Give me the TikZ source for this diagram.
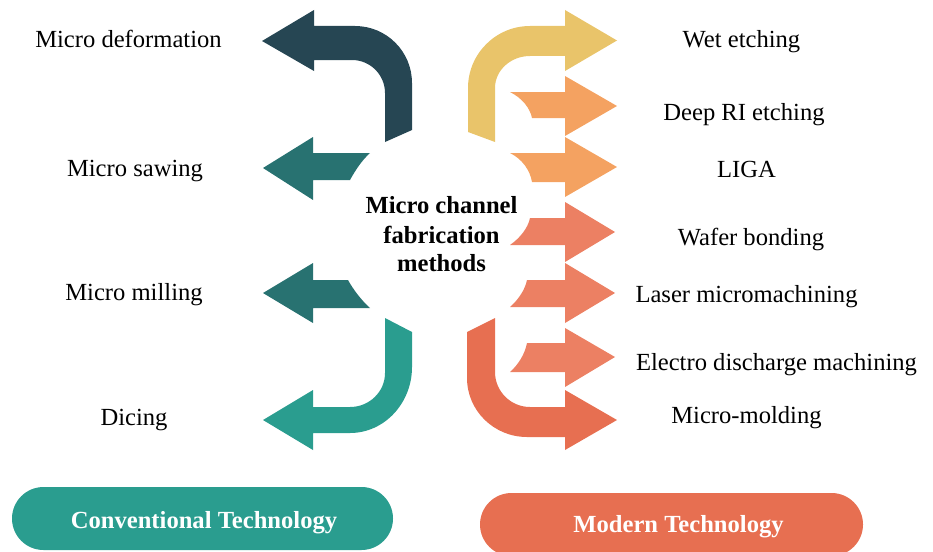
\documentclass[tikz,border=0pt]{standalone}
\usepackage{fontspec}
\setmainfont{Liberation Serif}
\definecolor{cdark}{HTML}{264653}
\definecolor{cteal}{HTML}{287271}
\definecolor{cgreen}{HTML}{2A9D8F}
\definecolor{cyellow}{HTML}{E9C46A}
\definecolor{corange}{HTML}{F4A261}
\definecolor{csalmon}{HTML}{EC8063}
\definecolor{cred}{HTML}{E76F51}
\tikzset{
  lbl/.style={anchor=base, inner sep=0pt, font=\fontsize{24.6}{29}\selectfont, text=black},
  ctr/.style={anchor=base, inner sep=0pt, font=\fontsize{24.6}{29}\selectfont\bfseries, text=black},
  pill/.style={draw=none, inner sep=0pt, minimum height=63pt, rounded corners=31.5pt},
  pilltxt/.style={anchor=base, inner sep=0pt, font=\fontsize{24.6}{29}\selectfont\bfseries, text=white}
}
\begin{document}
\begin{tikzpicture}[x=1pt,y=-1pt]
\useasboundingbox (0,0) rectangle (933,551);
\clip (0,0) rectangle (933,551);
% ---------- left arrows ----------
\fill[cdark] (314,26) -- (355,26) .. controls (386.5,26) and (412,51.5) .. (412,83) -- (412,130) -- (385,142) -- (385,93) .. controls (385,74.8) and (370.2,60) .. (352,60) -- (314,60) -- (314,71) -- (262,41) -- (314,10) -- cycle;
\fill[cteal] (313,153) -- (370,153) .. controls (361.8,160.4) and (355.3,170.4) .. (350,180) -- (313,180) -- (313,200) -- (263,168) -- (313,137) -- cycle;
\fill[cteal] (313,280) -- (348,280) .. controls (353.3,289.7) and (361.8,300.7) .. (370,308) -- (313,308) -- (313,323) -- (263,293) -- (313,263) -- cycle;
\fill[cgreen] (313,407) -- (350,407) .. controls (369.3,407) and (385,391.8) .. (385,373) -- (385,318) -- (412,332) -- (412,367) .. controls (412,403.4) and (384.2,433) .. (350,433) -- (313,433) -- (313,450) -- (263,420) -- (313,390) -- cycle;
% ---------- right arrows ----------
\fill[cyellow] (565,26) -- (530,26) .. controls (495.8,26) and (468,53.8) .. (468,88) -- (468,132) -- (495,142) -- (495,88) .. controls (495,70.3) and (510.7,56) .. (530,56) -- (565,56) -- (565,71) -- (617,40.5) -- (565,10) -- cycle;
\fill[corange] (565,92) -- (510,92) .. controls (522,98) and (530,108) .. (532,118) -- (565,118) -- (565,136) -- (617,106) -- (565,76) -- cycle;
\fill[corange] (565,153) -- (510,153) .. controls (522,159) and (530,170) .. (532,182) -- (565,182) -- (565,197) -- (617,167) -- (565,137) -- cycle;
\fill[csalmon] (565,218) -- (530,218) .. controls (528,228) and (520,238) .. (510,245) -- (565,245) -- (565,262) -- (615,232) -- (565,202) -- cycle;
\fill[csalmon] (565,280) -- (527,280) .. controls (525,290) and (518,300) .. (510,307) -- (565,307) -- (565,323) -- (615,293) -- (565,263) -- cycle;
\fill[csalmon] (565,343) -- (527,343) .. controls (525,354) and (518,365) .. (510,372) -- (565,372) -- (565,387) -- (615,357) -- (565,328) -- cycle;
\fill[cred] (565,437) -- (527,437) .. controls (493.9,437) and (467,410.6) .. (467,378) -- (467,332) -- (495,318) -- (495,372) .. controls (495,391.3) and (510.7,407) .. (530,407) -- (565,407) -- (565,390) -- (617,420) -- (565,450) -- cycle;
% ---------- labels ----------
\node[lbl] (l1) at (128.5,48) {Micro deformation};
\node[lbl] (l2) at (135,176) {Micro sawing};
\node[lbl] (l3) at (134,300) {Micro milling};
\node[lbl] (l4) at (134,425) {Dicing};
\node[lbl] (r1) at (741.5,48) {Wet etching};
\node[lbl] (r2) at (744,120) {Deep RI etching};
\node[lbl] (r3) at (746.5,177) {LIGA};
\node[lbl] (r4) at (751,245) {Wafer bonding};
\node[lbl] (r5) at (746.5,302) {Laser micromachining};
\node[lbl] (r6) at (776.5,370) {Electro discharge machining};
\node[lbl] (r7) at (746.5,423) {Micro-molding};
% ---------- centre ----------
\node[ctr] (c1) at (441.5,213) {Micro channel};
\node[ctr] (c2) at (441.5,243) {fabrication};
\node[ctr] (c3) at (441.5,271) {methods};
% ---------- bottom pills ----------
\node[pill, fill=cgreen, minimum width=381pt] (conv) at (202.5,518.5) {};
\node[pilltxt] (convt) at (204,528) {Conventional Technology};
\node[pill, fill=cred, minimum width=383pt] (mod) at (671.5,524.5) {};
\node[pilltxt] (modt) at (678.5,532) {Modern Technology};
\end{tikzpicture}
\end{document}
